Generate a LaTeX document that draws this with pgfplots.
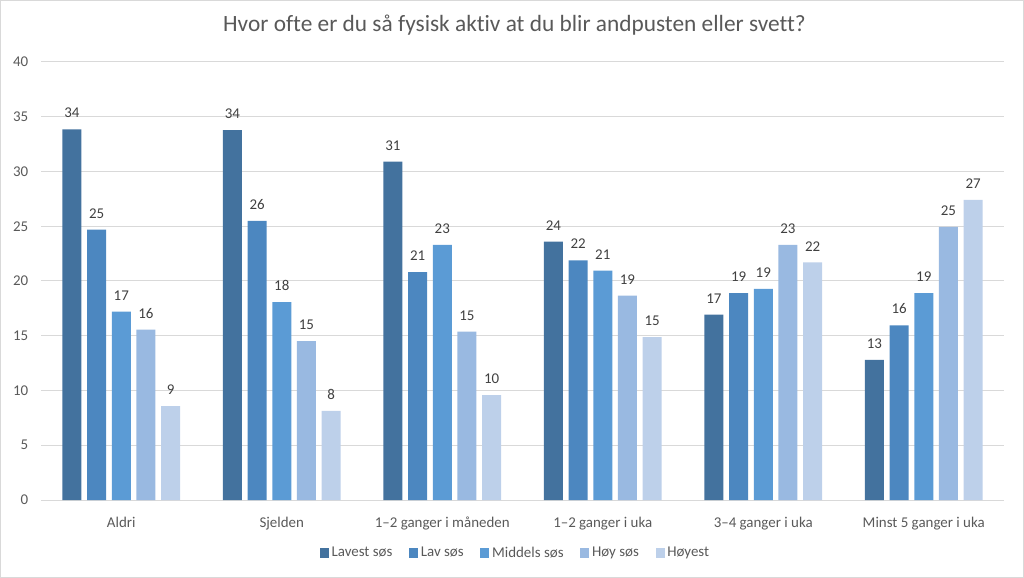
\documentclass[border=0pt]{standalone}
\usepackage{fontspec}
\setmainfont{Carlito}[Ligatures=NoCommon]
\usepackage{pgfplots}
\pgfplotsset{compat=1.18}
\definecolor{c1}{RGB}{67,114,158}
\definecolor{c2}{RGB}{76,135,192}
\definecolor{c3}{RGB}{91,155,213}
\definecolor{c4}{RGB}{153,185,225}
\definecolor{c5}{RGB}{189,208,234}
\definecolor{gridc}{RGB}{217,217,217}
\definecolor{txt}{RGB}{89,89,89}
\definecolor{lbl}{RGB}{64,64,64}
\pgfplotsset{sqlegend/.style={legend image code/.code={\fill[##1] (0pt,-3.4pt) rectangle (6.8pt,3.4pt);}}}
\begin{document}
\begin{tikzpicture}
\path[draw=gridc, line width=0.75pt] (0.375pt,0.375pt) rectangle (767.625pt,433.125pt);
\begin{axis}[at={(30.75pt,58.5pt)}, anchor=south west, scale only axis,
  width=722.25pt, height=328.5pt,
  ybar=4.25pt, bar width=14.25pt,
  xmin=-0.5, xmax=5.5, ymin=0, ymax=40, ytick={0,5,...,40},
  xtick={0,1,2,3,4,5},
  xticklabels={Aldri, Sjelden, 1–2 ganger i måneden, 1–2 ganger i uka, 3–4 ganger i uka, Minst 5 ganger i uka},
  axis line style={draw=none}, tick style={draw=none},
  ymajorgrids, grid style={gridc, line width=0.75pt},
  /pgf/number format/assume math mode=true,
  ticklabel style={font=\fontsize{11.2}{13}\selectfont, text=txt},
  yticklabel style={xshift=-6pt},
  xticklabel style={yshift=-5pt},
  title={Hvor ofte er du så fysisk aktiv at du blir andpusten eller svett?},
  title style={at={(0.5,1)}, anchor=center, yshift=21.5pt, xshift=-6pt, font=\fontsize{17.5}{20}\selectfont, text=txt},
  nodes near coords={\pgfmathprintnumber[fixed,precision=0,assume math mode=true]{\pgfplotspointmeta}},
  nodes near coords style={font=\fontsize{11.2}{13}\selectfont, text=lbl, yshift=5pt},
  legend style={at={(0.5,0)}, anchor=center, yshift=-39.75pt, xshift=-5pt, draw=none, fill=none,
    legend columns=-1, font=\fontsize{11.2}{13}\selectfont, text=txt,
    /tikz/every even column/.append style={column sep=10.5pt}},
]
\addplot[fill=c1, draw=none, sqlegend] coordinates {(0,33.84) (1,33.78) (2,30.91) (3,23.6) (4,16.92) (5,12.8)};
\addplot[fill=c2, draw=none, sqlegend] coordinates {(0,24.7) (1,25.5) (2,20.82) (3,21.89) (4,18.9) (5,15.95)};
\addplot[fill=c3, draw=none, sqlegend] coordinates {(0,17.2) (1,18.08) (2,23.29) (3,20.95) (4,19.27) (5,18.9)};
\addplot[fill=c4, draw=none, sqlegend] coordinates {(0,15.55) (1,14.51) (2,15.37) (3,18.66) (4,23.29) (5,24.94)};
\addplot[fill=c5, draw=none, sqlegend] coordinates {(0,8.57) (1,8.14) (2,9.57) (3,14.88) (4,21.7) (5,27.4)};
\legend{Lavest søs, Lav søs, Middels søs, Høy søs, Høyest}
\end{axis}
\end{tikzpicture}
\end{document}
